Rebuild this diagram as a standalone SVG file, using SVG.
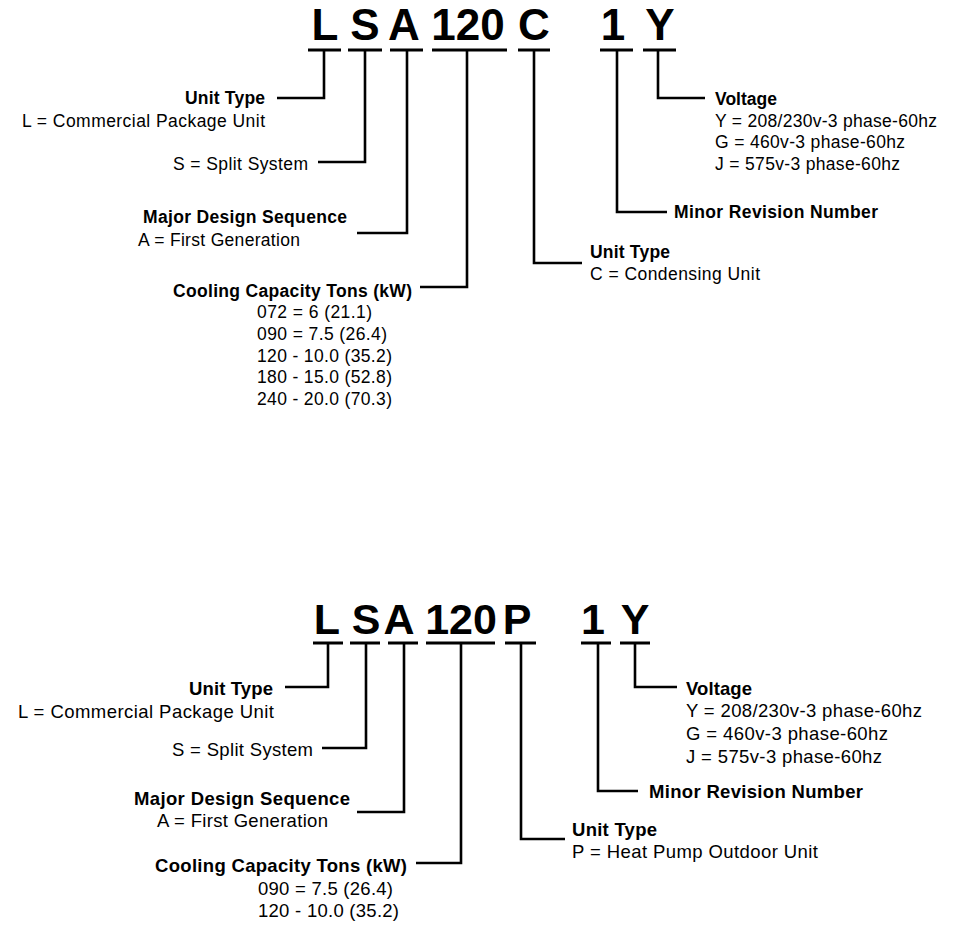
<svg xmlns="http://www.w3.org/2000/svg" width="954" height="946" viewBox="0 0 954 946">
<style>
.code{font-family:"Liberation Sans",Arial,sans-serif;font-weight:bold;fill:#000;text-anchor:middle}
.t1{font-family:"Liberation Sans",Arial,sans-serif;font-size:17.5px;fill:#000}
.t2{font-family:"Liberation Sans",Arial,sans-serif;font-size:18.5px;fill:#000}
.b{font-weight:bold}
.ul{stroke:#000;stroke-width:3;fill:none}
.cn{stroke:#000;stroke-width:2.6;fill:none}
</style>
<rect width="954" height="946" fill="#fff"/>

<!-- ===== TOP: LSA120C 1Y ===== -->
<g id="top-code" font-size="44">
  <g id="t-L"><text class="code" x="325" y="40">L</text><line class="ul" x1="308" y1="50" x2="341" y2="50"/></g>
  <g id="t-S"><text class="code" x="365" y="40">S</text><line class="ul" x1="348" y1="50" x2="382" y2="50"/></g>
  <g id="t-A"><text class="code" x="404" y="40">A</text><line class="ul" x1="390" y1="50" x2="423" y2="50"/></g>
  <g id="t-120"><text class="code" x="468" y="40">120</text><line class="ul" x1="432" y1="50" x2="507" y2="50"/></g>
  <g id="t-C"><text class="code" x="534" y="40">C</text><line class="ul" x1="518" y1="50" x2="550" y2="50"/></g>
  <g id="t-1"><text class="code" x="613" y="40">1</text><line class="ul" x1="600" y1="50" x2="633" y2="50"/></g>
  <g id="t-Y"><text class="code" x="660" y="40">Y</text><line class="ul" x1="643" y1="50" x2="676" y2="50"/></g>
</g>

<g id="top-connectors">
  <path class="cn" d="M324 50V98H277"/>
  <path class="cn" d="M365 50V162H318"/>
  <path class="cn" d="M407 50V233H357"/>
  <path class="cn" d="M467 50V287H420"/>
  <path class="cn" d="M534 50V263H582"/>
  <path class="cn" d="M617 50V212H667"/>
  <path class="cn" d="M658 50V98H705"/>
</g>

<g id="top-unit-type-L">
  <text class="t1 b" x="185" y="104" textLength="80">Unit Type</text>
  <text class="t1" x="22" y="127" textLength="243">L = Commercial Package Unit</text>
</g>
<g id="top-split">
  <text class="t1" x="173" y="170" textLength="135">S = Split System</text>
</g>
<g id="top-major">
  <text class="t1 b" x="143" y="223" textLength="204">Major Design Sequence</text>
  <text class="t1" x="138" y="246" textLength="162">A = First Generation</text>
</g>
<g id="top-cooling">
  <text class="t1 b" x="173" y="297" textLength="239">Cooling Capacity Tons (kW)</text>
  <text class="t1" x="257" y="318" textLength="115">072 = 6 (21.1)</text>
  <text class="t1" x="257" y="340" textLength="130">090 = 7.5 (26.4)</text>
  <text class="t1" x="257" y="362" textLength="135">120 - 10.0 (35.2)</text>
  <text class="t1" x="257" y="383" textLength="135">180 - 15.0 (52.8)</text>
  <text class="t1" x="257" y="405" textLength="135">240 - 20.0 (70.3)</text>
</g>
<g id="top-unit-type-C">
  <text class="t1 b" x="590" y="258" textLength="80">Unit Type</text>
  <text class="t1" x="590" y="280" textLength="170">C = Condensing Unit</text>
</g>
<g id="top-minor">
  <text class="t1 b" x="674" y="218" textLength="204">Minor Revision Number</text>
</g>
<g id="top-voltage">
  <text class="t1 b" x="715" y="105" textLength="62">Voltage</text>
  <text class="t1" x="715" y="127" textLength="222">Y = 208/230v-3 phase-60hz</text>
  <text class="t1" x="715" y="148" textLength="190">G = 460v-3 phase-60hz</text>
  <text class="t1" x="715" y="170" textLength="185">J = 575v-3 phase-60hz</text>
</g>

<!-- ===== BOTTOM: LSA120P 1Y ===== -->
<g id="bottom-code" font-size="43">
  <g id="b-L"><text class="code" x="327" y="634">L</text><line class="ul" x1="313" y1="643" x2="343" y2="643"/></g>
  <g id="b-S"><text class="code" x="366" y="634">S</text><line class="ul" x1="350" y1="643" x2="380" y2="643"/></g>
  <g id="b-A"><text class="code" x="399" y="634">A</text><line class="ul" x1="388" y1="643" x2="418" y2="643"/></g>
  <g id="b-120"><text class="code" x="461" y="634">120</text><line class="ul" x1="426" y1="643" x2="495" y2="643"/></g>
  <g id="b-P"><text class="code" x="517" y="634">P</text><line class="ul" x1="505" y1="643" x2="536" y2="643"/></g>
  <g id="b-1"><text class="code" x="593" y="634">1</text><line class="ul" x1="581" y1="643" x2="611" y2="643"/></g>
  <g id="b-Y"><text class="code" x="635" y="634">Y</text><line class="ul" x1="620" y1="643" x2="650" y2="643"/></g>
</g>

<g id="bottom-connectors">
  <path class="cn" d="M328 643V687H285"/>
  <path class="cn" d="M366 643V748H322"/>
  <path class="cn" d="M404 643V812H357"/>
  <path class="cn" d="M461 643V863H416"/>
  <path class="cn" d="M521 643V839H565"/>
  <path class="cn" d="M598 643V791H638"/>
  <path class="cn" d="M635 643V687H677"/>
</g>

<g id="bottom-unit-type-L">
  <text class="t2 b" x="189" y="695" textLength="84">Unit Type</text>
  <text class="t2" x="18" y="718" textLength="256">L = Commercial Package Unit</text>
</g>
<g id="bottom-split">
  <text class="t2" x="172" y="756" textLength="141">S = Split System</text>
</g>
<g id="bottom-major">
  <text class="t2 b" x="134" y="805" textLength="216">Major Design Sequence</text>
  <text class="t2" x="157" y="827" textLength="171">A = First Generation</text>
</g>
<g id="bottom-cooling">
  <text class="t2 b" x="155" y="872" textLength="252">Cooling Capacity Tons (kW)</text>
  <text class="t2" x="258" y="895" textLength="135">090 = 7.5 (26.4)</text>
  <text class="t2" x="258" y="917" textLength="141">120 - 10.0 (35.2)</text>
</g>
<g id="bottom-unit-type-P">
  <text class="t2 b" x="572" y="836" textLength="85">Unit Type</text>
  <text class="t2" x="572" y="858" textLength="246">P = Heat Pump Outdoor Unit</text>
</g>
<g id="bottom-minor">
  <text class="t2 b" x="649" y="798" textLength="214">Minor Revision Number</text>
</g>
<g id="bottom-voltage">
  <text class="t2 b" x="686" y="695" textLength="66">Voltage</text>
  <text class="t2" x="686" y="717" textLength="236">Y = 208/230v-3 phase-60hz</text>
  <text class="t2" x="686" y="740" textLength="202">G = 460v-3 phase-60hz</text>
  <text class="t2" x="686" y="763" textLength="196">J = 575v-3 phase-60hz</text>
</g>
</svg>
